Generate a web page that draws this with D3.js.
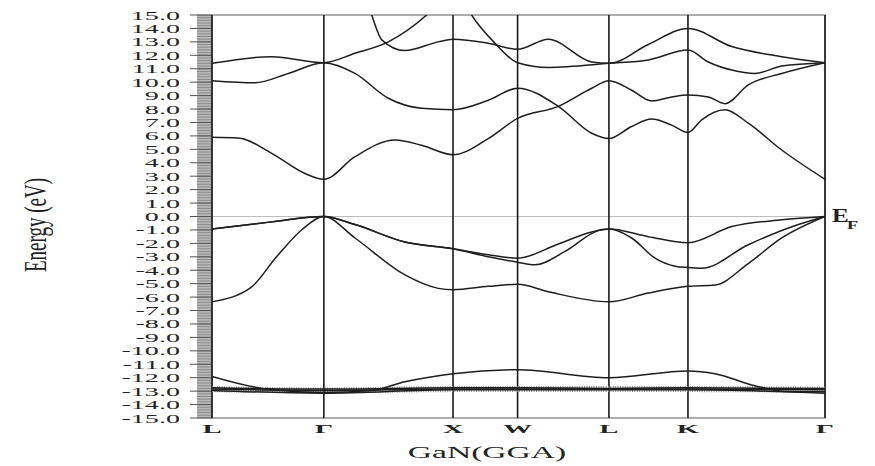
<!DOCTYPE html>
<html>
<head>
    <meta charset="utf-8">
    <title>GaN(GGA) band structure</title>
    <script src="https://d3js.org/d3.v7.min.js"></script>
    <style>
        body {
            margin: 0;
            background-color: #FFFFFF;
        }
        text {
            font-family: "Liberation Serif", "Times New Roman", serif;
            fill: #222222;
        }
        .band {
            fill: none;
            stroke: #1e1e1e;
            stroke-width: 1.5px;
        }
    </style>
</head>
<body>
    <div id="bands-chart"></div>

    <script>
        // High symmetry points along the path
        var kPoints = [0, 0.866, 1.866, 2.366, 3.073, 3.685, 4.746];
        var kLabels = ["L", "\u0393", "X", "W", "L", "K", "\u0393"];

        // Energy axis ticks (eV)
        var yTicks = d3.range(-15, 15.5, 1);

        // Bands, [k, energy]
        var valence1 = [[0,-0.93],[0.462,-0.4],[0.866,0],[1.107,-0.6],[1.494,-1.9],[1.866,-2.4],[2.139,-2.85],[2.366,-3.1],
            [2.681,-2.05],[2.940,-1.15],[3.073,-0.93],[3.378,-1.5],[3.685,-1.95],[4.024,-0.75],[4.411,-0.25],[4.746,0]];
        var valence2 = [[0,-0.93],[0.462,-0.4],[0.866,0],[1.107,-0.6],[1.494,-1.9],[1.866,-2.4],[2.139,-3.0],[2.366,-3.4],
            [2.501,-3.6],[2.733,-2.6],[2.991,-1.05],[3.073,-0.93],[3.249,-1.6],[3.430,-3.1],[3.585,-3.7],[3.685,-3.8],
            [3.791,-3.85],[4.152,-2.1],[4.540,-0.6],[4.746,0]];
        var valence3 = [[0,-6.35],[0.3,-5.3],[0.5,-3.0],[0.70,-0.95],[0.866,0],[1.107,-1.6],[1.494,-4.35],[1.752,-5.35],
            [1.866,-5.45],[2.139,-5.2],[2.366,-5.05],[2.604,-5.6],[3.073,-6.35],[3.378,-5.7],[3.685,-5.2],[3.894,-5.1],
            [4.152,-3.5],[4.411,-1.6],[4.746,0]];

        var lowBand = [[0,-11.9],[0.462,-12.9],[0.866,-13.1],[1.236,-12.95],[1.494,-12.3],[1.866,-11.7],[2.366,-11.4],
            [3.073,-12.0],[3.685,-11.5],[3.894,-11.7],[4.204,-12.6],[4.411,-13.0],[4.746,-13.05]];
        var dBand1 = [[0,-12.75],[0.866,-12.85],[1.866,-12.75],[2.366,-12.75],[3.073,-12.8],[3.685,-12.75],[4.746,-12.8]];
        var dBand2 = [[0,-12.85],[0.866,-12.95],[1.866,-12.85],[2.366,-12.85],[3.073,-12.85],[3.685,-12.85],[4.746,-12.9]];
        var dBand3 = [[0,-12.95],[0.866,-13.15],[1.866,-12.9],[2.366,-12.9],[3.073,-12.9],[3.685,-12.9],[4.746,-13.15]];

        var cond1 = [[0,5.9],[0.204,5.85],[0.462,4.7],[0.720,3.2],[0.866,2.77],[1.107,4.45],[1.417,5.7],[1.623,5.3],
            [1.866,4.6],[2.139,5.8],[2.366,7.3],[2.681,8.2],[2.940,9.55],[3.073,10.1],[3.249,9.4],[3.404,8.6],[3.559,8.9],
            [3.685,9.05],[3.843,8.9],[3.972,8.4],[4.152,9.8],[4.411,10.65],[4.746,11.45]];
        var cond2 = [[0,10.1],[0.333,9.95],[0.591,10.65],[0.866,11.45],[1.107,10.65],[1.365,8.8],[1.623,8.05],[1.866,7.95],
            [2.139,8.65],[2.366,9.55],[2.681,8.2],[2.940,6.2],[3.073,5.8],[3.249,6.7],[3.404,7.25],[3.559,6.8],[3.685,6.25],
            [3.791,7.2],[3.972,7.95],[4.152,6.95],[4.411,4.95],[4.746,2.77]];
        var cond3 = [[0,11.4],[0.462,11.9],[0.866,11.45],[1.107,12.15],[1.365,13.0],[1.662,15.0],[1.75,15.8]];
        var cond4 = [[1.19,16.2],[1.236,15.0],[1.314,13.15],[1.494,12.35],[1.752,13.0],[1.866,13.2],[2.139,12.9],
            [2.366,12.45],[2.604,13.2],[2.940,11.5],[3.073,11.4],[3.378,12.8],[3.685,14.0],[4.024,12.65],[4.411,11.9],[4.746,11.45]];
        var cond5 = [[1.96,15.8],[2.010,15.0],[2.191,12.9],[2.366,11.45],[2.604,11.1],[3.073,11.4],[3.378,11.65],
            [3.685,12.4],[3.843,11.5],[4.024,10.9],[4.204,10.65],[4.411,11.2],[4.746,11.45]];
        var cond6 = [[3.55,15.9],[3.685,15.05],[3.82,15.9]];

        var bands = [valence1, valence2, valence3, lowBand, dBand1, dBand2, dBand3,
            cond1, cond2, cond3, cond4, cond5, cond6];

        // Size
        var width = 875, height = 466;
        var plot = { left: 212, right: 825, top: 15, bottom: 418 };

        var svg = d3.select("#bands-chart")
            .append("svg")
            .attr("width", width)
            .attr("height", height);

        var x = d3.scaleLinear()
            .domain([0, kPoints[kPoints.length - 1]])
            .range([plot.left, plot.right]);

        var y = d3.scaleLinear()
            .domain([-15, 15])
            .range([plot.bottom, plot.top]);

        // helper for horizontally stretched text
        function wideText(px, py, str, size, sx, anchor) {
            return svg.append("text")
                .attr("transform", "translate(" + px + "," + py + ") scale(" + sx + ",1)")
                .attr("text-anchor", anchor)
                .style("font-size", size + "px")
                .text(str);
        }

        // Grey strip of minor ticks
        svg.append("rect")
            .attr("x", 197).attr("y", plot.top)
            .attr("width", plot.left - 197).attr("height", plot.bottom - plot.top)
            .attr("fill", "#b8b8b8");

        svg.append("g")
            .selectAll("line")
            .data(d3.range(-15, 15.01, 0.2))
            .enter().append("line")
            .attr("x1", 197).attr("x2", plot.left)
            .attr("y1", function(d) { return y(d); })
            .attr("y2", function(d) { return y(d); })
            .attr("stroke", "#808080")
            .attr("stroke-width", 0.8);

        // Major ticks and labels
        svg.append("g")
            .selectAll("line")
            .data(yTicks)
            .enter().append("line")
            .attr("x1", 190).attr("x2", plot.left)
            .attr("y1", function(d) { return y(d); })
            .attr("y2", function(d) { return y(d); })
            .attr("stroke", "#555555")
            .attr("stroke-width", 1);

        // plain hyphen for negative labels
        yTicks.forEach(function(d) {
            wideText(180, y(d) + 4.5, d.toFixed(1), 12.5, 2.25, "end");
        });

        // Fermi level
        svg.append("line")
            .attr("x1", plot.left).attr("x2", plot.right)
            .attr("y1", y(0)).attr("y2", y(0))
            .attr("stroke", "#bdbdbd")
            .attr("stroke-width", 1);

        // Frame
        svg.append("rect")
            .attr("x", plot.left).attr("y", plot.top)
            .attr("width", plot.right - plot.left).attr("height", plot.bottom - plot.top)
            .attr("fill", "none")
            .attr("stroke", "#777777")
            .attr("stroke-width", 1.2);

        // Symmetry lines
        svg.append("g")
            .selectAll("line")
            .data(kPoints)
            .enter().append("line")
            .attr("x1", function(d) { return x(d); })
            .attr("x2", function(d) { return x(d); })
            .attr("y1", plot.top).attr("y2", plot.bottom)
            .attr("stroke", "#1a1a1a")
            .attr("stroke-width", 1.6);

        // Clip bands to plot
        svg.append("defs").append("clipPath")
            .attr("id", "plot-clip")
            .append("rect")
            .attr("x", plot.left).attr("y", plot.top)
            .attr("width", plot.right - plot.left).attr("height", plot.bottom - plot.top);

        var line = d3.line()
            .x(function(d) { return x(d[0]); })
            .y(function(d) { return y(d[1]); })
            .curve(d3.curveMonotoneX);

        var bandGroup = svg.append("g")
            .attr("clip-path", "url(#plot-clip)");

        // hatch look of the flat d bands
        bandGroup.append("path")
            .datum(dBand2)
            .attr("d", line)
            .attr("fill", "none")
            .attr("stroke", "#8a8a8a")
            .attr("stroke-width", 6)
            .attr("stroke-dasharray", "1,1.4");

        bandGroup.selectAll(".band")
            .data(bands)
            .enter().append("path")
            .attr("class", "band")
            .attr("d", line);

        // k-point labels
        kPoints.forEach(function(d, i) {
            wideText(x(d), 433, kLabels[i], 11.5, 2.5, "middle")
                .style("font-weight", "bold");
        });

        // Axis titles
        wideText(487, 458, "GaN(GGA)", 16, 2.1, "middle");

        svg.append("text")
            .attr("transform", "translate(46,225) rotate(-90) scale(1,1.8)")
            .attr("text-anchor", "middle")
            .attr("textLength", 94)
            .attr("lengthAdjust", "spacingAndGlyphs")
            .style("font-size", "17px")
            .text("Energy (eV)");

        // Fermi label
        wideText(832, 222, "E", 18, 1.4, "start").style("font-weight", "bold");
        wideText(847, 229, "F", 13, 1.4, "start").style("font-weight", "bold");
    </script>
</body>
</html>
